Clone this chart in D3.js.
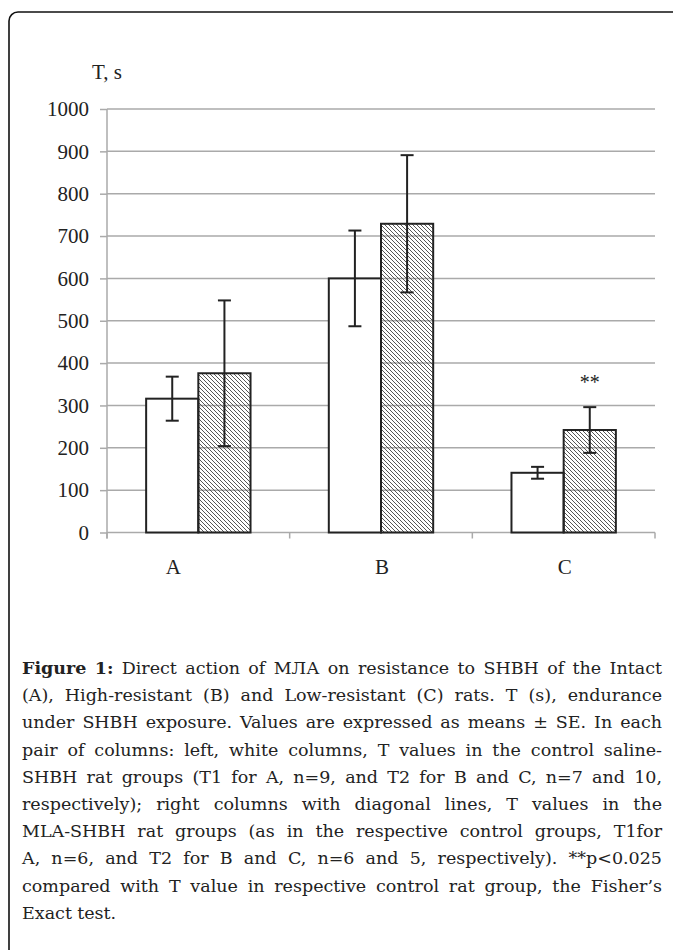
<!DOCTYPE html>
<html>
<head>
<meta charset="utf-8">
<script src="https://cdn.jsdelivr.net/npm/d3@7"></script>
<style>
    body { margin: 0; background: #fff; }
    text { font-family: "Liberation Serif", "Times New Roman", serif; fill: #222; }
    .caption text { font-family: "DejaVu Serif", serif; }
</style>
</head>
<body>
<div id="chart"></div>
<script>
// groups and the two series (means and standard errors)
const groups = ["A", "B", "C"];
const series = ["control", "mla"];
const controlMeans = [316, 600, 141];
const controlSE = [52, 113, 14];
const mlaMeans = [376, 729, 242];
const mlaSE = [172, 162, 54];
const yTicks = [0, 100, 200, 300, 400, 500, 600, 700, 800, 900, 1000];
const marks = [{group: "C", series: "mla", text: "**"}];

const captionLines = [
    "Figure 1: Direct action of МЛА on resistance to SHBH of the Intact",
    "(A), High-resistant (B) and Low-resistant (C) rats. T (s), endurance",
    "under SHBH exposure. Values are expressed as means ± SE. In each",
    "pair of columns: left, white columns, T values in the control saline-",
    "SHBH rat groups (T1 for A, n=9, and T2 for B and C, n=7 and 10,",
    "respectively); right columns with diagonal lines, T values in the",
    "MLA-SHBH rat groups (as in the respective control groups, T1for",
    "A, n=6, and T2 for B and C, n=6 and 5, respectively). **p<0.025",
    "compared with T value in respective control rat group, the Fisher’s",
    "Exact test."
];

const width = 673, height = 950;

let svg = d3.select("#chart").append("svg")
    .attr("width", width)
    .attr("height", height);

// hatch pattern for the right columns
let defs = svg.append("defs");
defs.append("pattern")
    .attr("id", "hatch")
    .attr("patternUnits", "userSpaceOnUse")
    .attr("width", 4)
    .attr("height", 4)
    .append("path")
    .attr("d", "M-1,-1 L5,5 M-1,3 L1,5 M3,-1 L5,1")
    .attr("stroke", "#444")
    .attr("stroke-width", 0.9);

// outer frame (runs off the right and bottom of the page)
svg.append("rect")
    .attr("x", 9).attr("y", 12)
    .attr("width", 720).attr("height", 980)
    .attr("rx", 9)
    .attr("fill", "none")
    .attr("stroke", "#111")
    .attr("stroke-width", 1.6);

// scales
let plot = {left: 107, right: 655, top: 109, bottom: 532.5};

let y = d3.scaleLinear()
    .domain([0, 1000])
    .range([plot.bottom, plot.top]);

let x0 = d3.scaleBand()
    .domain(groups)
    .range([plot.left, plot.right])
    .padding(0);

let x1 = d3.scaleBand()
    .domain(series)
    .range([0, x0.bandwidth()])
    .paddingInner(0)
    .paddingOuter(0.75);

// y axis ticks and labels
let yAxis = d3.axisLeft(y)
    .tickValues(yTicks)
    .tickSize(7)
    .tickPadding(11)
    .tickFormat(d3.format("d"));

let gy = svg.append("g")
    .attr("transform", `translate(${plot.left},0)`)
    .call(yAxis);
gy.select(".domain").remove();
gy.selectAll(".tick line").attr("stroke", "#aaa").attr("stroke-width", 1.5);
gy.selectAll(".tick text")
    .style("font-size", "21px")
    .attr("fill", "#222");

// gridlines
svg.append("g")
    .selectAll("line")
    .data(yTicks)
    .enter()
    .append("line")
    .attr("x1", plot.left)
    .attr("x2", plot.right)
    .attr("y1", d => y(d))
    .attr("y2", d => y(d))
    .attr("stroke", "#aaa")
    .attr("stroke-width", 1.5);

// y axis line
svg.append("line")
    .attr("x1", plot.left).attr("x2", plot.left)
    .attr("y1", plot.top).attr("y2", plot.bottom + 6)
    .attr("stroke", "#aaa")
    .attr("stroke-width", 1.5);

// category ticks under the x axis
let catTicks = groups.map(g => x0(g)).concat([plot.right]);
svg.append("g")
    .selectAll("line")
    .data(catTicks)
    .enter()
    .append("line")
    .attr("x1", d => d).attr("x2", d => d)
    .attr("y1", plot.bottom).attr("y2", plot.bottom + 6)
    .attr("stroke", "#aaa")
    .attr("stroke-width", 1.5);

// axis title
svg.append("text")
    .attr("x", 92)
    .attr("y", 79)
    .style("font-size", "21px")
    .text("T, s");

// category labels
svg.append("g")
    .selectAll("text")
    .data(groups)
    .enter()
    .append("text")
    .attr("x", d => x0(d) + x0.bandwidth() / 2)
    .attr("dx", d => d === "A" ? -25 : 1)
    .attr("y", 574)
    .attr("text-anchor", "middle")
    .style("font-size", "21px")
    .text(d => d);

// bars
let barData = [];
groups.forEach((g, i) => {
    barData.push({group: g, series: "control", value: controlMeans[i], se: controlSE[i]});
    barData.push({group: g, series: "mla", value: mlaMeans[i], se: mlaSE[i]});
});

svg.append("g")
    .selectAll("rect")
    .data(barData)
    .enter()
    .append("rect")
    .attr("x", d => x0(d.group) + x1(d.series))
    .attr("y", d => y(d.value))
    .attr("width", x1.bandwidth())
    .attr("height", d => y(0) - y(d.value))
    .attr("fill", d => d.series === "mla" ? "url(#hatch)" : "#fff")
    .attr("stroke", "#222")
    .attr("stroke-width", 2);

// error bars
let cap = 6.5;
let err = svg.append("g")
    .selectAll("g")
    .data(barData)
    .enter()
    .append("g")
    .attr("stroke", "#222")
    .attr("stroke-width", 2);

err.append("line")
    .attr("x1", d => x0(d.group) + x1(d.series) + x1.bandwidth() / 2)
    .attr("x2", d => x0(d.group) + x1(d.series) + x1.bandwidth() / 2)
    .attr("y1", d => y(d.value + d.se))
    .attr("y2", d => y(d.value - d.se));

err.append("line")
    .attr("x1", d => x0(d.group) + x1(d.series) + x1.bandwidth() / 2 - cap)
    .attr("x2", d => x0(d.group) + x1(d.series) + x1.bandwidth() / 2 + cap)
    .attr("y1", d => y(d.value + d.se))
    .attr("y2", d => y(d.value + d.se));

err.append("line")
    .attr("x1", d => x0(d.group) + x1(d.series) + x1.bandwidth() / 2 - cap)
    .attr("x2", d => x0(d.group) + x1(d.series) + x1.bandwidth() / 2 + cap)
    .attr("y1", d => y(d.value - d.se))
    .attr("y2", d => y(d.value - d.se));

// significance stars
svg.append("g")
    .selectAll("text")
    .data(marks)
    .enter()
    .append("text")
    .attr("x", d => x0(d.group) + x1(d.series) + x1.bandwidth() / 2)
    .attr("y", d => {
        let b = barData.find(e => e.group === d.group && e.series === d.series);
        return y(b.value + b.se) - 18;
    })
    .attr("text-anchor", "middle")
    .style("font-size", "20px")
    .text(d => d.text);

// caption, justified word by word
let capBox = {left: 22, right: 662, top: 674, lineH: 27.2, size: 17.5};
let capG = svg.append("g").attr("class", "caption").style("font-size", capBox.size + "px");

captionLines.forEach((line, li) => {
    let words = line.split(" ");
    let yPos = capBox.top + li * capBox.lineH;
    let nodes = words.map((w, wi) => {
        let t = capG.append("text").attr("y", yPos).text(w);
        if (li === 0 && wi < 2) t.style("font-weight", "bold");
        return t;
    });
    let widths = nodes.map(n => n.node().getComputedTextLength());
    let total = d3.sum(widths);
    let avail = capBox.right - capBox.left;
    let last = li === captionLines.length - 1;
    let gap = last ? capBox.size * 0.3 : (avail - total) / (words.length - 1);
    // squeeze a line that is too long for the box
    if (!last && gap < 3) {
        let k = (avail - 3 * (words.length - 1)) / total;
        nodes.forEach((n, i) => {
            n.attr("textLength", widths[i] * k).attr("lengthAdjust", "spacingAndGlyphs");
            widths[i] *= k;
        });
        gap = 3;
    }
    let xPos = capBox.left;
    nodes.forEach((n, i) => {
        n.attr("x", xPos);
        xPos += widths[i] + gap;
    });
});
</script>
</body>
</html>
